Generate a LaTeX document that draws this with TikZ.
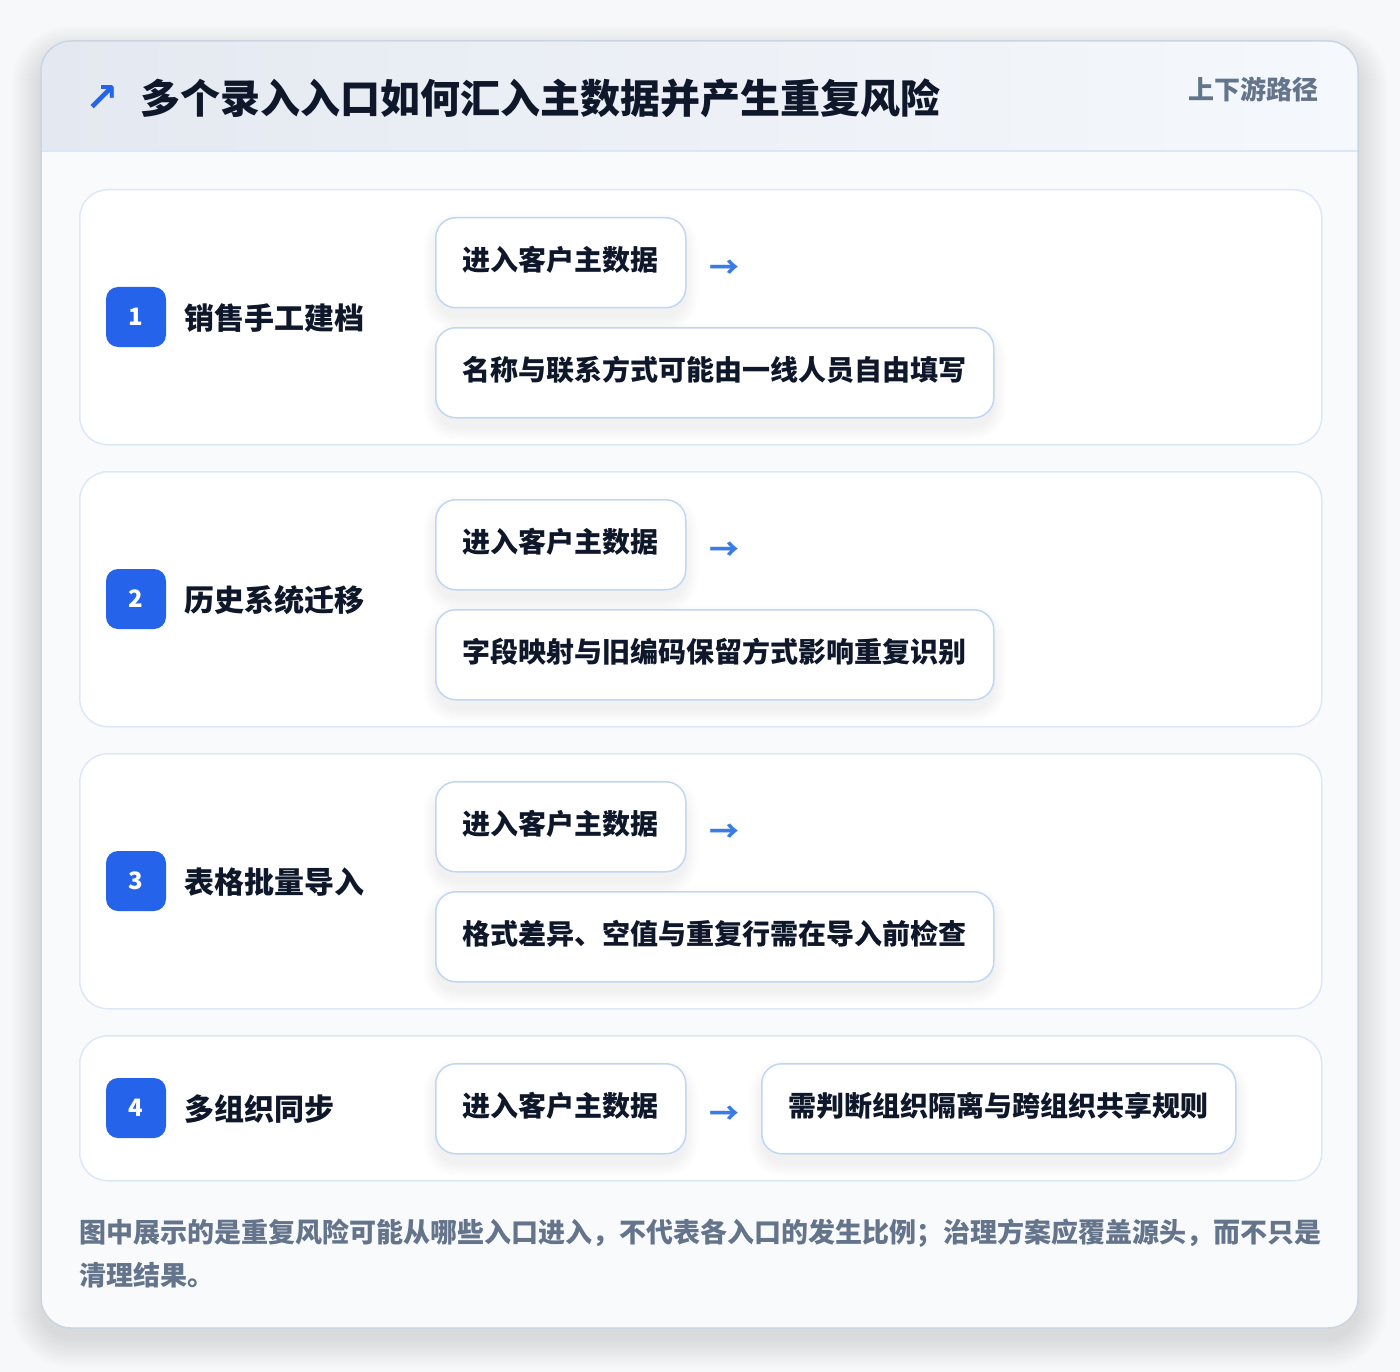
\documentclass[tikz,border=0pt]{standalone}
\usepackage{fontspec}
\setmainfont{Noto Sans CJK SC}
\newfontfamily\symfont{DejaVu Sans}
\usetikzlibrary{calc}
\pgfdeclarelayer{back}
\pgfdeclarelayer{rowlayer}
\pgfdeclarelayer{shadowlayer}
\pgfsetlayers{back,rowlayer,shadowlayer,main}
\definecolor{pagebg}{HTML}{F7F8FA}
\definecolor{cardborder}{HTML}{CBD5E1}
\definecolor{cardbody}{HTML}{F9FAFC}
\definecolor{headL}{HTML}{E4E9F1}
\definecolor{headR}{HTML}{F5F8FC}
\definecolor{headline}{HTML}{DBE7F7}
\definecolor{rowborder}{HTML}{DCE8F8}
\definecolor{boxborder}{HTML}{BFD7F5}
\definecolor{ink}{HTML}{0F172A}
\definecolor{muted}{HTML}{64748B}
\definecolor{badge}{HTML}{2563EB}
\definecolor{arrowblue}{HTML}{3B7BE6}
\tikzset{
  rowbox/.style={draw=rowborder, line width=1.5pt, fill=white, rounded corners=28pt,
    anchor=north west, minimum width=1242pt, inner sep=0pt},
  stepbadge/.style={fill=badge, rounded corners=12pt, minimum size=60pt, inner sep=0pt,
    text=white, font=\bfseries\fontsize{24}{26}\selectfont},
  rowlabel/.style={anchor=west, text=ink, inner sep=0pt, font=\bfseries\fontsize{30}{36}\selectfont},
  infobox/.style={draw=boxborder, line width=1.5pt, fill=white, rounded corners=20pt,
    anchor=north west, minimum height=90pt, inner xsep=27pt, inner ysep=0pt,
    text height=22pt, text depth=7pt,
    text=ink, font=\bfseries\fontsize{28}{34}\selectfont},
  flowarrow/.style={text=arrowblue, inner sep=0pt, font=\bfseries\fontsize{30}{34}\selectfont},
}
% soft shadow under a named node
\newcommand{\nodeshadow}[1]{%
  \begin{pgfonlayer}{shadowlayer}
  \foreach \s in {1,...,14}{
    \fill[black, opacity=0.005, rounded corners=20pt+\s pt]
      ($(#1.north west)+(-\s+2,-\s+10)$) rectangle ($(#1.south east)+(\s-2,\s+8)$);
  }
  \end{pgfonlayer}}
\begin{document}
\begin{tikzpicture}[x=1pt,y=-1pt]
\begin{pgfonlayer}{back}
\fill[pagebg] (0,0) rectangle (1400,1372);
\foreach \s in {1,...,30}{
  \fill[black, opacity=0.0045, rounded corners=30pt+\s pt]
    (41-\s,41-\s+14) rectangle (1358+\s,1328+\s+10);
}
% card
\fill[cardbody, rounded corners=30pt] (41,41) rectangle (1358,1328);
\begin{scope}
  \clip[rounded corners=30pt] (41,41) rectangle (1358,1328);
  \shade[left color=headL, right color=headR] (41,41) rectangle (1358,151);
\end{scope}
\draw[headline, line width=1.5pt] (41,151) -- (1358,151);
\draw[cardborder, line width=1.5pt, rounded corners=30pt] (41,41) rectangle (1358,1328);
\end{pgfonlayer}
\useasboundingbox (0,0) rectangle (1400,1372);
% header
\node[text=badge, inner sep=0pt, font=\symfont\bfseries\fontsize{40}{44}\selectfont] (icon) at (102,99) {↗};
\node[anchor=west, text=ink, inner sep=0pt, font=\bfseries\fontsize{40}{48}\selectfont] (title) at (140,98) {多个录入入口如何汇入主数据并产生重复风险};
\node[anchor=east, text=muted, inner sep=0pt, font=\bfseries\fontsize{26}{30}\selectfont] (tag) at (1319,89) {上下游路径};
% rows
\begin{pgfonlayer}{rowlayer}
\node[rowbox, minimum height=255pt] (row1) at (79,189) {};
\node[rowbox, minimum height=255pt] (row2) at (79,471) {};
\node[rowbox, minimum height=255pt] (row3) at (79,753) {};
\node[rowbox, minimum height=145pt] (row4) at (79,1035) {};
\end{pgfonlayer}
% row 1
\node[stepbadge] (b1) at (136,317) {1};
\node[rowlabel] (l1) at (184,318) {销售手工建档};
\node[infobox] (e1) at (435,217) {进入客户主数据}; \nodeshadow{e1}
\node[flowarrow] (a1) at (724,269) {→};
\node[infobox] (d1) at (435,327) {名称与联系方式可能由一线人员自由填写}; \nodeshadow{d1}
% row 2
\node[stepbadge] (b2) at (136,599) {2};
\node[rowlabel] (l2) at (184,600) {历史系统迁移};
\node[infobox] (e2) at (435,499) {进入客户主数据}; \nodeshadow{e2}
\node[flowarrow] (a2) at (724,551) {→};
\node[infobox] (d2) at (435,609) {字段映射与旧编码保留方式影响重复识别}; \nodeshadow{d2}
% row 3
\node[stepbadge] (b3) at (136,881) {3};
\node[rowlabel] (l3) at (184,882) {表格批量导入};
\node[infobox] (e3) at (435,781) {进入客户主数据}; \nodeshadow{e3}
\node[flowarrow] (a3) at (724,833) {→};
\node[infobox] (d3) at (435,891) {格式差异、空值与重复行需在导入前检查}; \nodeshadow{d3}
% row 4
\node[stepbadge] (b4) at (136,1108) {4};
\node[rowlabel] (l4) at (184,1109) {多组织同步};
\node[infobox] (e4) at (435,1063) {进入客户主数据}; \nodeshadow{e4}
\node[flowarrow] (a4) at (724,1115) {→};
\node[infobox] (d4) at (761,1063) {需判断组织隔离与跨组织共享规则}; \nodeshadow{d4}
% footer
\node[anchor=west, text=muted, inner sep=0pt, font=\bfseries\fontsize{27}{32}\selectfont] (f1) at (79,1233) {图中展示的是重复风险可能从哪些入口进入，不代表各入口的发生比例；治理方案应覆盖源头，而不只是};
\node[anchor=west, text=muted, inner sep=0pt, font=\bfseries\fontsize{27}{32}\selectfont] (f2) at (79,1275) {清理结果。};
\end{tikzpicture}
\end{document}
